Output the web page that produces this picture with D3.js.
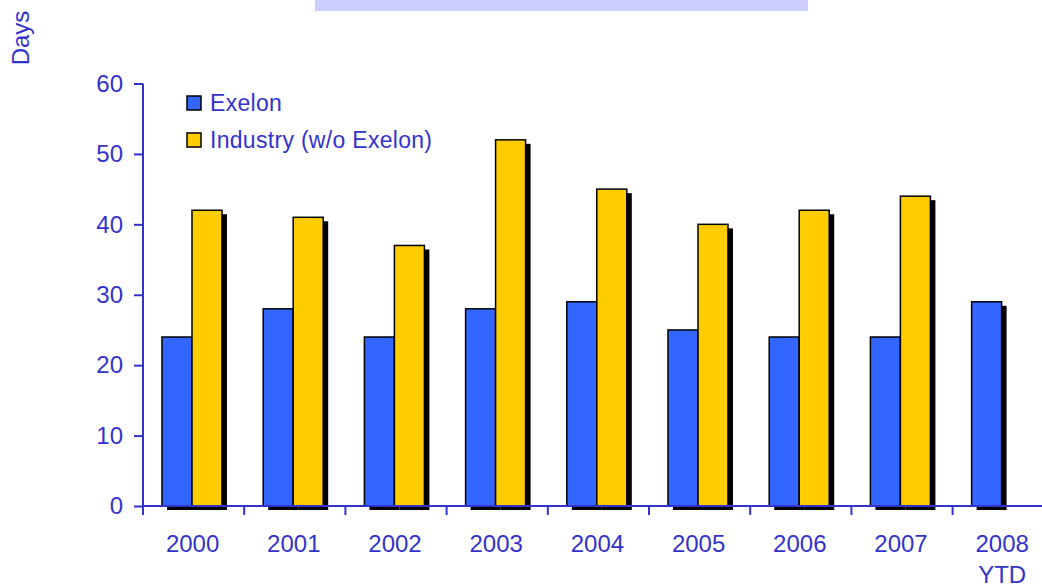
<!DOCTYPE html>
<html><head><meta charset="utf-8">
<script src="https://cdn.jsdelivr.net/npm/d3@7"></script>
<style>body{margin:0;background:#fff}svg{display:block;font-family:"Liberation Sans",Arial,sans-serif}</style>
</head><body><svg id="c" width="1042" height="588"></svg>
<script>
const categories = ["2000","2001","2002","2003","2004","2005","2006","2007","2008\nYTD"];
const seriesNames = ["Exelon","Industry (w/o Exelon)"];
const exelon = [24,28,24,28,29,25,24,24,29];
const industry = [42,41,37,52,45,40,42,44,null];
const yTicks = [0,10,20,30,40,50,60];
const colors = ["#3366FF","#FFCC00"];
const textColor = "#3333CC";

const svg = d3.select("#c");
svg.append("rect").attr("x",315).attr("y",0).attr("width",493).attr("height",11).attr("fill","#CCCCFF");

const y = d3.scaleLinear().domain([0,60]).range([506,83.5]);
const x0 = d3.scaleBand().domain(categories).range([143,143+9*101.2]).padding(0);
const x1 = d3.scaleBand().domain(seriesNames).range([19,79]).padding(0);

const data = categories.map((c,i)=>({cat:c, vals:[exelon[i],industry[i]]}));
const bars = [];
data.forEach(d=>d.vals.forEach((v,j)=>{ if(v!=null) bars.push({cat:d.cat,s:seriesNames[j],v,j}); }));

const g = svg.append("g");
g.selectAll("rect.sh").data(bars).join("rect").attr("class","sh")
  .attr("x",d=>x0(d.cat)+x1(d.s)+5).attr("y",d=>y(d.v)+4)
  .attr("width",x1.bandwidth()).attr("height",d=>y(0)-y(d.v)).attr("fill","#000");
g.selectAll("rect.b").data(bars).join("rect").attr("class","b")
  .attr("x",d=>x0(d.cat)+x1(d.s)).attr("y",d=>y(d.v))
  .attr("width",x1.bandwidth()).attr("height",d=>y(0)-y(d.v))
  .attr("fill",d=>colors[d.j]).attr("stroke","#000").attr("stroke-width",1.5);

// x axis
svg.append("line").attr("x1",143).attr("x2",1042).attr("y1",y(0)).attr("y2",y(0)).attr("stroke",textColor).attr("stroke-width",2);
svg.selectAll("line.xt").data(categories).join("line").attr("class","xt")
  .attr("x1",d=>x0(d)).attr("x2",d=>x0(d)).attr("y1",y(0)).attr("y2",y(0)+9)
  .attr("stroke",textColor).attr("stroke-width",2);
svg.selectAll("text.xl").data(categories).join("text").attr("class","xl")
  .attr("x",d=>x0(d)+x0.bandwidth()/2-1).attr("y",552)
  .attr("text-anchor","middle").attr("fill",textColor).attr("font-size",24)
  .each(function(d){
    const parts=d.split("\n");
    d3.select(this).selectAll("tspan").data(parts).join("tspan")
      .attr("x",x0(d)+x0.bandwidth()/2-1).attr("dy",(p,k)=>k===0?0:31).text(p=>p);
  });

// y axis
const yAxis = d3.axisLeft(y).tickValues(yTicks).tickSize(9).tickPadding(11);
const ya = svg.append("g").attr("transform","translate(143,0)").call(yAxis);
ya.select(".domain").remove();
ya.append("line").attr("x1",0).attr("x2",0).attr("y1",y(60)).attr("y2",y(0)+9).attr("stroke",textColor).attr("stroke-width",2);
ya.selectAll(".tick line").attr("stroke",textColor).attr("stroke-width",2);
ya.selectAll(".tick text").attr("fill",textColor).attr("font-size",24).attr("font-family","Liberation Sans, Arial, sans-serif");

svg.append("text").attr("transform","translate(29,38) rotate(-90)").attr("text-anchor","middle")
  .attr("fill",textColor).attr("font-size",24).text("Days");

// legend
const lg = svg.append("g");
seriesNames.forEach((s,i)=>{
  lg.append("rect").attr("x",187).attr("y",96+i*37).attr("width",14).attr("height",14)
    .attr("fill",colors[i]).attr("stroke","#000").attr("stroke-width",1.5);
  lg.append("text").attr("x",210).attr("y",111+i*37).attr("fill",textColor).attr("font-size",23)
    .attr("letter-spacing",0.3).text(s);
});
</script></body></html>
